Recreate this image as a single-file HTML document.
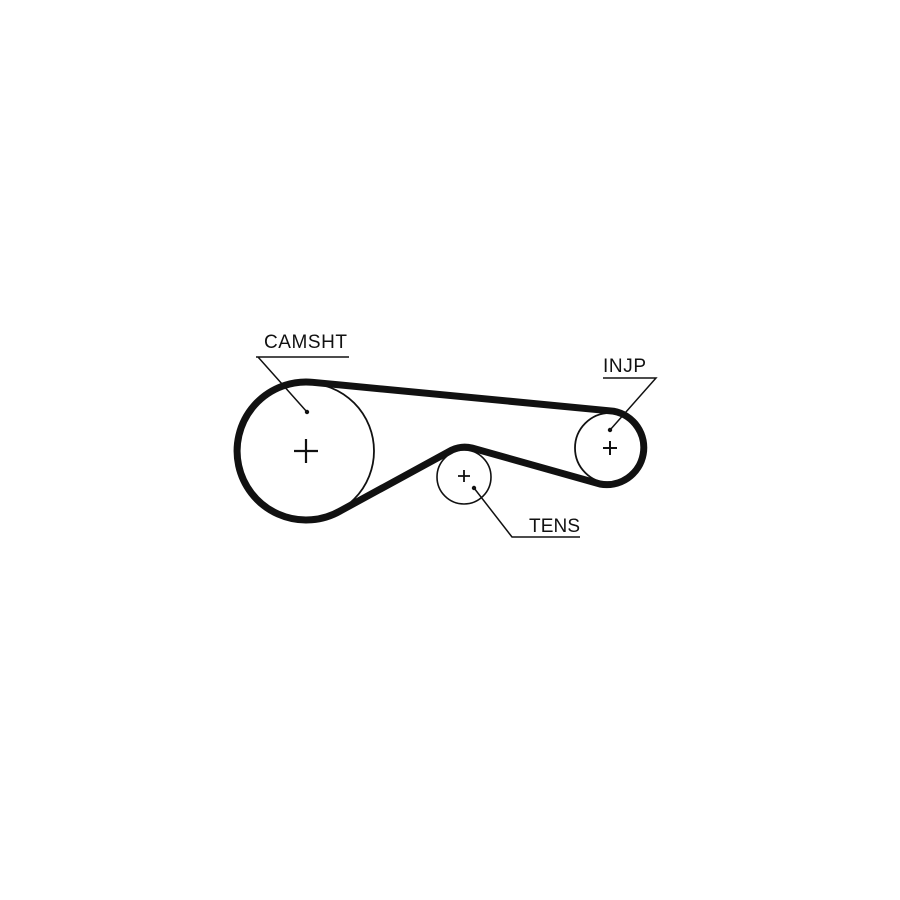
<!DOCTYPE html>
<html><head><style>body{margin:0;background:#fff}svg{display:block}</style></head>
<body>
<svg width="900" height="900" viewBox="0 0 900 900" xmlns="http://www.w3.org/2000/svg">
<rect width="900" height="900" fill="#fff"/>
<g fill="none" stroke="#111">
<circle cx="306" cy="451" r="68" stroke-width="1.8"/>
<circle cx="610" cy="448" r="35" stroke-width="1.8"/>
<circle cx="464" cy="477" r="27" stroke-width="1.6"/>
<path d="M312.6,382.3 L613.5,411.2 A37,37 0 0 1 600,484 L472,448 A30,30 0 0 0 452,450 L340.5,510.8 A69,69 0 1 1 312.6,382.3 Z" stroke-width="7" stroke-linejoin="round"/>
<path d="M294,451h24M306,439v24" stroke-width="2.2"/>
<path d="M603,448h14M610,441v14" stroke-width="2"/>
<path d="M458,476h12M464,470v12" stroke-width="1.8"/>
<path d="M256,357H349M258,357L307,412" stroke-width="1.5"/>
<path d="M603,378H656L610,430" stroke-width="1.5"/>
<path d="M580,537H512L474,488" stroke-width="1.5"/>
</g>
<g fill="#111">
<circle cx="307" cy="412" r="2.2"/><circle cx="610" cy="430" r="2.2"/><circle cx="474" cy="488" r="2.2"/>
</g>
<g font-family="Liberation Sans, sans-serif" font-size="19" fill="#111">
<text x="264" y="348" textLength="83">CAMSHT</text>
<text x="603" y="372" textLength="43">INJP</text>
<text x="529" y="532" textLength="51">TENS</text>
</g>
</svg>
</body></html>
